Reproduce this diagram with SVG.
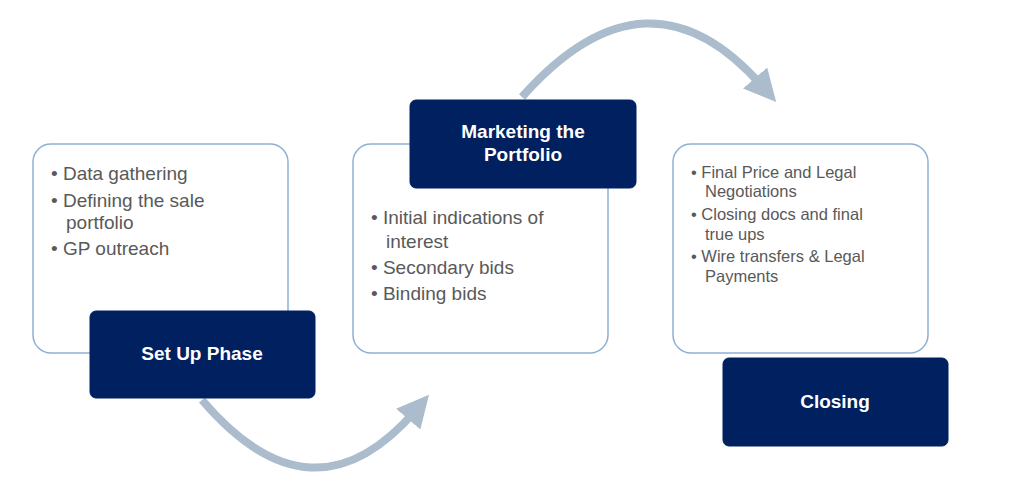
<svg xmlns="http://www.w3.org/2000/svg" width="1022" height="495" viewBox="0 0 1022 495">
<style>
.card{fill:#fff;stroke:#8fb0d3;stroke-width:1.5}
.tag{fill:#002060;stroke:#002060}
.tt{font-family:"Liberation Sans",Arial,sans-serif;font-weight:bold;font-size:19px;fill:#fff;text-anchor:middle}
.b{font-family:"Liberation Sans",Arial,sans-serif;font-size:19px;fill:#595959}
.s{font-family:"Liberation Sans",Arial,sans-serif;font-size:16.5px;fill:#595959}
.arc{fill:none;stroke:#abbccc;stroke-width:8}
</style>
<defs><marker id="ah" markerWidth="4" markerHeight="4" refX="1.5" refY="2" orient="auto" markerUnits="strokeWidth"><path d="M0,0 L4,2 L0,4 Z" fill="#abbccc"/></marker></defs>
<g id="connectors">
<path class="arc" d="M202,400 Q313,530 416,410" marker-end="url(#ah)"/>
<path class="arc" d="M522,97 Q648,-45 763,87" marker-end="url(#ah)"/>
</g>
<g id="setup">
<rect class="card" x="33" y="144" width="255" height="209" rx="18"/>
<text class="b" x="51" y="180">• Data gathering</text>
<text class="b" x="51" y="207">• Defining the sale</text>
<text class="b" x="66" y="229">portfolio</text>
<text class="b" x="51" y="255">• GP outreach</text>
<rect class="tag" x="90" y="311" width="225" height="87" rx="6"/>
<text class="tt" x="202" y="360">Set Up Phase</text>
</g>
<g id="marketing">
<rect class="card" x="353" y="144" width="255" height="209" rx="18"/>
<text class="b" x="371" y="224">• Initial indications of</text>
<text class="b" x="386" y="248">interest</text>
<text class="b" x="371" y="274">• Secondary bids</text>
<text class="b" x="371" y="300">• Binding bids</text>
<rect class="tag" x="410" y="100" width="226" height="88" rx="6"/>
<text class="tt" x="523" y="138">Marketing the</text>
<text class="tt" x="523" y="161">Portfolio</text>
</g>
<g id="closing">
<rect class="card" x="673" y="144" width="255" height="209" rx="18"/>
<text class="s" x="691" y="178">• Final Price and Legal</text>
<text class="s" x="705" y="197">Negotiations</text>
<text class="s" x="691" y="220">• Closing docs and final</text>
<text class="s" x="705" y="240">true ups</text>
<text class="s" x="691" y="262">• Wire transfers &amp; Legal</text>
<text class="s" x="705" y="282">Payments</text>
<rect class="tag" x="723" y="358" width="225" height="88" rx="6"/>
<text class="tt" x="835" y="408">Closing</text>
</g>
</svg>
